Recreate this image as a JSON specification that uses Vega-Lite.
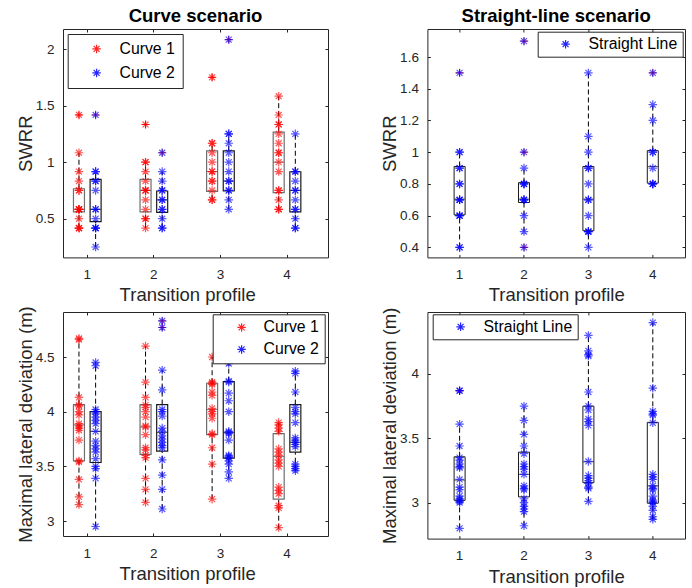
{
"$schema": "https://vega.github.io/schema/vega-lite/v6.json",
"background": "white",
"padding": {"left": 15, "top": 6, "right": 2, "bottom": 2},
"config": {
  "font": "Liberation Sans",
  "view": {"stroke": "#262626", "strokeWidth": 1},
  "axis": {"domain": false, "grid": false, "tickColor": "#262626", "tickSize": -3, "tickWidth": 1, "labelColor": "#262626", "labelFontSize": 13.5, "titleColor": "#262626", "titleFontSize": 18.5, "titleFontWeight": "normal", "labelAngle": 0},
  "axisY": {"labelPadding": 12, "titlePadding": 0},
  "axisX": {"labelPadding": 13, "titlePadding": 5},
  "title": {"fontSize": 18.5, "fontWeight": "bold", "color": "#000", "baseline": "bottom", "offset": 3},
  "legend": {"strokeColor": "#262626", "fillColor": "white", "labelFontSize": 15.8, "labelColor": "#000", "symbolType": "M-1,0L1,0M0,-1L0,1M-0.7,-0.7L0.7,0.7M-0.7,0.7L0.7,-0.7", "symbolSize": 72, "symbolStrokeWidth": 1.2, "symbolFillColor": "transparent", "symbolOpacity": 0.85}
},
"datasets": {
"p1": [
{"g":1,"s":"Curve 1","v":1.417,"o":1},{"g":1,"s":"Curve 1","v":1.083},{"g":1,"s":"Curve 1","v":0.917},{"g":1,"s":"Curve 1","v":0.833},{"g":1,"s":"Curve 1","v":0.75},{"g":1,"s":"Curve 1","v":0.75},{"g":1,"s":"Curve 1","v":0.583},{"g":1,"s":"Curve 1","v":0.583},{"g":1,"s":"Curve 1","v":0.583},{"g":1,"s":"Curve 1","v":0.583},{"g":1,"s":"Curve 1","v":0.5},{"g":1,"s":"Curve 1","v":0.417},{"g":1,"s":"Curve 1","v":0.417},{"g":1,"s":"Curve 1","v":0.417},
{"g":1,"s":"Curve 2","v":1.417,"o":1},{"g":1,"s":"Curve 2","v":0.917},{"g":1,"s":"Curve 2","v":0.917},{"g":1,"s":"Curve 2","v":0.833},{"g":1,"s":"Curve 2","v":0.833},{"g":1,"s":"Curve 2","v":0.75},{"g":1,"s":"Curve 2","v":0.583},{"g":1,"s":"Curve 2","v":0.583},{"g":1,"s":"Curve 2","v":0.5},{"g":1,"s":"Curve 2","v":0.417},{"g":1,"s":"Curve 2","v":0.417},{"g":1,"s":"Curve 2","v":0.417},{"g":1,"s":"Curve 2","v":0.25},
{"g":2,"s":"Curve 1","v":1.333,"o":1},{"g":2,"s":"Curve 1","v":1.0},{"g":2,"s":"Curve 1","v":1.0},{"g":2,"s":"Curve 1","v":0.917},{"g":2,"s":"Curve 1","v":0.833},{"g":2,"s":"Curve 1","v":0.75},{"g":2,"s":"Curve 1","v":0.75},{"g":2,"s":"Curve 1","v":0.75},{"g":2,"s":"Curve 1","v":0.667},{"g":2,"s":"Curve 1","v":0.583},{"g":2,"s":"Curve 1","v":0.5},{"g":2,"s":"Curve 1","v":0.5},{"g":2,"s":"Curve 1","v":0.417},
{"g":2,"s":"Curve 2","v":1.083,"o":1},{"g":2,"s":"Curve 2","v":0.917},{"g":2,"s":"Curve 2","v":0.833},{"g":2,"s":"Curve 2","v":0.75},{"g":2,"s":"Curve 2","v":0.75},{"g":2,"s":"Curve 2","v":0.667},{"g":2,"s":"Curve 2","v":0.667},{"g":2,"s":"Curve 2","v":0.583},{"g":2,"s":"Curve 2","v":0.583},{"g":2,"s":"Curve 2","v":0.5},{"g":2,"s":"Curve 2","v":0.417},{"g":2,"s":"Curve 2","v":0.417},
{"g":3,"s":"Curve 1","v":1.75,"o":1},{"g":3,"s":"Curve 1","v":1.167},{"g":3,"s":"Curve 1","v":1.167},{"g":3,"s":"Curve 1","v":1.083},{"g":3,"s":"Curve 1","v":1.0},{"g":3,"s":"Curve 1","v":0.917},{"g":3,"s":"Curve 1","v":0.917},{"g":3,"s":"Curve 1","v":0.833},{"g":3,"s":"Curve 1","v":0.833},{"g":3,"s":"Curve 1","v":0.75},{"g":3,"s":"Curve 1","v":0.667},{"g":3,"s":"Curve 1","v":0.667},
{"g":3,"s":"Curve 2","v":2.083,"o":1},{"g":3,"s":"Curve 2","v":1.25},{"g":3,"s":"Curve 2","v":1.25},{"g":3,"s":"Curve 2","v":1.167},{"g":3,"s":"Curve 2","v":1.083},{"g":3,"s":"Curve 2","v":1.0},{"g":3,"s":"Curve 2","v":0.917},{"g":3,"s":"Curve 2","v":0.833},{"g":3,"s":"Curve 2","v":0.833},{"g":3,"s":"Curve 2","v":0.75},{"g":3,"s":"Curve 2","v":0.75},{"g":3,"s":"Curve 2","v":0.667},{"g":3,"s":"Curve 2","v":0.583},
{"g":4,"s":"Curve 1","v":1.583},{"g":4,"s":"Curve 1","v":1.417},{"g":4,"s":"Curve 1","v":1.333},{"g":4,"s":"Curve 1","v":1.333},{"g":4,"s":"Curve 1","v":1.25},{"g":4,"s":"Curve 1","v":1.167},{"g":4,"s":"Curve 1","v":1.083},{"g":4,"s":"Curve 1","v":1.083},{"g":4,"s":"Curve 1","v":1.0},{"g":4,"s":"Curve 1","v":0.917},{"g":4,"s":"Curve 1","v":0.75},{"g":4,"s":"Curve 1","v":0.75},{"g":4,"s":"Curve 1","v":0.667},{"g":4,"s":"Curve 1","v":0.583},{"g":4,"s":"Curve 1","v":0.583},
{"g":4,"s":"Curve 2","v":1.25},{"g":4,"s":"Curve 2","v":0.917},{"g":4,"s":"Curve 2","v":0.917},{"g":4,"s":"Curve 2","v":0.833},{"g":4,"s":"Curve 2","v":0.75},{"g":4,"s":"Curve 2","v":0.75},{"g":4,"s":"Curve 2","v":0.667},{"g":4,"s":"Curve 2","v":0.583},{"g":4,"s":"Curve 2","v":0.583},{"g":4,"s":"Curve 2","v":0.5},{"g":4,"s":"Curve 2","v":0.417},{"g":4,"s":"Curve 2","v":0.417}
],
"p1b": [
{"g":1,"s":"Curve 1","lo":0.417,"q1":0.56,"med":0.583,"q3":0.765,"hi":1.083},
{"g":1,"s":"Curve 2","lo":0.25,"q1":0.475,"med":0.583,"q3":0.848,"hi":0.917},
{"g":2,"s":"Curve 1","lo":0.417,"q1":0.56,"med":0.75,"q3":0.848,"hi":1.0},
{"g":2,"s":"Curve 2","lo":0.417,"q1":0.556,"med":0.667,"q3":0.745,"hi":0.917},
{"g":3,"s":"Curve 1","lo":0.667,"q1":0.742,"med":0.917,"q3":1.1,"hi":1.167},
{"g":3,"s":"Curve 2","lo":0.583,"q1":0.745,"med":0.833,"q3":1.1,"hi":1.25},
{"g":4,"s":"Curve 1","lo":0.583,"q1":0.73,"med":1.0,"q3":1.265,"hi":1.583},
{"g":4,"s":"Curve 2","lo":0.417,"q1":0.56,"med":0.75,"q3":0.915,"hi":1.25}
],
"p2": [
{"g":1,"s":"Straight Line","v":1.5,"o":1},{"g":1,"s":"Straight Line","v":1.0},{"g":1,"s":"Straight Line","v":1.0},{"g":1,"s":"Straight Line","v":0.9},{"g":1,"s":"Straight Line","v":0.9},{"g":1,"s":"Straight Line","v":0.8},{"g":1,"s":"Straight Line","v":0.8},{"g":1,"s":"Straight Line","v":0.7},{"g":1,"s":"Straight Line","v":0.7},{"g":1,"s":"Straight Line","v":0.7},{"g":1,"s":"Straight Line","v":0.6},{"g":1,"s":"Straight Line","v":0.6},{"g":1,"s":"Straight Line","v":0.6},{"g":1,"s":"Straight Line","v":0.4},{"g":1,"s":"Straight Line","v":0.4},
{"g":2,"s":"Straight Line","v":1.7,"o":1},{"g":2,"s":"Straight Line","v":1.0,"o":1},{"g":2,"s":"Straight Line","v":0.9},{"g":2,"s":"Straight Line","v":0.8},{"g":2,"s":"Straight Line","v":0.8},{"g":2,"s":"Straight Line","v":0.8},{"g":2,"s":"Straight Line","v":0.7},{"g":2,"s":"Straight Line","v":0.7},{"g":2,"s":"Straight Line","v":0.7},{"g":2,"s":"Straight Line","v":0.6},{"g":2,"s":"Straight Line","v":0.5},{"g":2,"s":"Straight Line","v":0.4,"o":1},
{"g":3,"s":"Straight Line","v":1.5},{"g":3,"s":"Straight Line","v":1.1},{"g":3,"s":"Straight Line","v":1.0},{"g":3,"s":"Straight Line","v":0.9},{"g":3,"s":"Straight Line","v":0.9},{"g":3,"s":"Straight Line","v":0.8},{"g":3,"s":"Straight Line","v":0.7},{"g":3,"s":"Straight Line","v":0.7},{"g":3,"s":"Straight Line","v":0.6},{"g":3,"s":"Straight Line","v":0.5},{"g":3,"s":"Straight Line","v":0.5},{"g":3,"s":"Straight Line","v":0.5},{"g":3,"s":"Straight Line","v":0.4},
{"g":4,"s":"Straight Line","v":1.5,"o":1},{"g":4,"s":"Straight Line","v":1.3},{"g":4,"s":"Straight Line","v":1.2},{"g":4,"s":"Straight Line","v":1.0},{"g":4,"s":"Straight Line","v":1.0},{"g":4,"s":"Straight Line","v":0.9},{"g":4,"s":"Straight Line","v":0.8},{"g":4,"s":"Straight Line","v":0.8},{"g":4,"s":"Straight Line","v":0.8}
],
"p2b": [
{"g":1,"lo":0.4,"q1":0.605,"med":0.705,"q3":0.91,"hi":1.0},
{"g":2,"lo":0.5,"q1":0.683,"med":0.705,"q3":0.808,"hi":0.9},
{"g":3,"lo":0.4,"q1":0.505,"med":0.705,"q3":0.91,"hi":1.5},
{"g":4,"lo":0.8,"q1":0.805,"med":0.91,"q3":1.01,"hi":1.3}
],
"p3": [
{"g":1,"s":"Curve 1","v":4.67},{"g":1,"s":"Curve 1","v":4.66},{"g":1,"s":"Curve 1","v":4.13},{"g":1,"s":"Curve 1","v":4.06},{"g":1,"s":"Curve 1","v":4.05},{"g":1,"s":"Curve 1","v":4.0},{"g":1,"s":"Curve 1","v":3.97},{"g":1,"s":"Curve 1","v":3.89},{"g":1,"s":"Curve 1","v":3.87},{"g":1,"s":"Curve 1","v":3.85},{"g":1,"s":"Curve 1","v":3.83},{"g":1,"s":"Curve 1","v":3.74},{"g":1,"s":"Curve 1","v":3.55},{"g":1,"s":"Curve 1","v":3.54},{"g":1,"s":"Curve 1","v":3.38},{"g":1,"s":"Curve 1","v":3.22},{"g":1,"s":"Curve 1","v":3.15},
{"g":1,"s":"Curve 2","v":4.45},{"g":1,"s":"Curve 2","v":4.42},{"g":1,"s":"Curve 2","v":4.02},{"g":1,"s":"Curve 2","v":4.0},{"g":1,"s":"Curve 2","v":3.98},{"g":1,"s":"Curve 2","v":3.95},{"g":1,"s":"Curve 2","v":3.92},{"g":1,"s":"Curve 2","v":3.89},{"g":1,"s":"Curve 2","v":3.82},{"g":1,"s":"Curve 2","v":3.73},{"g":1,"s":"Curve 2","v":3.69},{"g":1,"s":"Curve 2","v":3.66},{"g":1,"s":"Curve 2","v":3.63},{"g":1,"s":"Curve 2","v":3.57},{"g":1,"s":"Curve 2","v":3.5},{"g":1,"s":"Curve 2","v":3.48},{"g":1,"s":"Curve 2","v":3.39},{"g":1,"s":"Curve 2","v":2.95},
{"g":2,"s":"Curve 1","v":4.6},{"g":2,"s":"Curve 1","v":4.27},{"g":2,"s":"Curve 1","v":4.13},{"g":2,"s":"Curve 1","v":4.06},{"g":2,"s":"Curve 1","v":4.04},{"g":2,"s":"Curve 1","v":4.0},{"g":2,"s":"Curve 1","v":3.95},{"g":2,"s":"Curve 1","v":3.87},{"g":2,"s":"Curve 1","v":3.86},{"g":2,"s":"Curve 1","v":3.79},{"g":2,"s":"Curve 1","v":3.67},{"g":2,"s":"Curve 1","v":3.65},{"g":2,"s":"Curve 1","v":3.6},{"g":2,"s":"Curve 1","v":3.58},{"g":2,"s":"Curve 1","v":3.39},{"g":2,"s":"Curve 1","v":3.29},{"g":2,"s":"Curve 1","v":3.17},
{"g":2,"s":"Curve 2","v":4.83,"o":1},{"g":2,"s":"Curve 2","v":4.77,"o":1},{"g":2,"s":"Curve 2","v":4.38},{"g":2,"s":"Curve 2","v":4.2},{"g":2,"s":"Curve 2","v":4.02},{"g":2,"s":"Curve 2","v":4.0},{"g":2,"s":"Curve 2","v":3.96},{"g":2,"s":"Curve 2","v":3.85},{"g":2,"s":"Curve 2","v":3.82},{"g":2,"s":"Curve 2","v":3.78},{"g":2,"s":"Curve 2","v":3.75},{"g":2,"s":"Curve 2","v":3.72},{"g":2,"s":"Curve 2","v":3.69},{"g":2,"s":"Curve 2","v":3.67},{"g":2,"s":"Curve 2","v":3.56},{"g":2,"s":"Curve 2","v":3.42},{"g":2,"s":"Curve 2","v":3.29},{"g":2,"s":"Curve 2","v":3.11},
{"g":3,"s":"Curve 1","v":4.5},{"g":3,"s":"Curve 1","v":4.27},{"g":3,"s":"Curve 1","v":4.26},{"g":3,"s":"Curve 1","v":4.25},{"g":3,"s":"Curve 1","v":4.18},{"g":3,"s":"Curve 1","v":4.15},{"g":3,"s":"Curve 1","v":4.03},{"g":3,"s":"Curve 1","v":4.0},{"g":3,"s":"Curve 1","v":3.98},{"g":3,"s":"Curve 1","v":3.94},{"g":3,"s":"Curve 1","v":3.8},{"g":3,"s":"Curve 1","v":3.79},{"g":3,"s":"Curve 1","v":3.67},{"g":3,"s":"Curve 1","v":3.52},{"g":3,"s":"Curve 1","v":3.2},
{"g":3,"s":"Curve 2","v":4.44},{"g":3,"s":"Curve 2","v":4.28},{"g":3,"s":"Curve 2","v":4.27},{"g":3,"s":"Curve 2","v":4.17},{"g":3,"s":"Curve 2","v":4.1},{"g":3,"s":"Curve 2","v":4.0},{"g":3,"s":"Curve 2","v":3.82},{"g":3,"s":"Curve 2","v":3.81},{"g":3,"s":"Curve 2","v":3.8},{"g":3,"s":"Curve 2","v":3.74},{"g":3,"s":"Curve 2","v":3.6},{"g":3,"s":"Curve 2","v":3.59},{"g":3,"s":"Curve 2","v":3.58},{"g":3,"s":"Curve 2","v":3.55},{"g":3,"s":"Curve 2","v":3.52},{"g":3,"s":"Curve 2","v":3.45},{"g":3,"s":"Curve 2","v":3.39},
{"g":4,"s":"Curve 1","v":3.9},{"g":4,"s":"Curve 1","v":3.88},{"g":4,"s":"Curve 1","v":3.85},{"g":4,"s":"Curve 1","v":3.82},{"g":4,"s":"Curve 1","v":3.66},{"g":4,"s":"Curve 1","v":3.63},{"g":4,"s":"Curve 1","v":3.6},{"g":4,"s":"Curve 1","v":3.56},{"g":4,"s":"Curve 1","v":3.53},{"g":4,"s":"Curve 1","v":3.5},{"g":4,"s":"Curve 1","v":3.31},{"g":4,"s":"Curve 1","v":3.28},{"g":4,"s":"Curve 1","v":3.25},{"g":4,"s":"Curve 1","v":3.14},{"g":4,"s":"Curve 1","v":3.12},{"g":4,"s":"Curve 1","v":2.94},
{"g":4,"s":"Curve 2","v":4.37},{"g":4,"s":"Curve 2","v":4.35},{"g":4,"s":"Curve 2","v":4.18},{"g":4,"s":"Curve 2","v":4.04},{"g":4,"s":"Curve 2","v":4.0},{"g":4,"s":"Curve 2","v":3.98},{"g":4,"s":"Curve 2","v":3.9},{"g":4,"s":"Curve 2","v":3.76},{"g":4,"s":"Curve 2","v":3.74},{"g":4,"s":"Curve 2","v":3.72},{"g":4,"s":"Curve 2","v":3.7},{"g":4,"s":"Curve 2","v":3.68},{"g":4,"s":"Curve 2","v":3.52},{"g":4,"s":"Curve 2","v":3.5},{"g":4,"s":"Curve 2","v":3.48},{"g":4,"s":"Curve 2","v":3.46}
],
"p3b": [
{"g":1,"s":"Curve 1","lo":3.15,"q1":3.55,"med":3.88,"q3":4.065,"hi":4.67},
{"g":1,"s":"Curve 2","lo":2.95,"q1":3.535,"med":3.82,"q3":4.0,"hi":4.45},
{"g":2,"s":"Curve 1","lo":3.17,"q1":3.61,"med":3.86,"q3":4.065,"hi":4.6},
{"g":2,"s":"Curve 2","lo":3.11,"q1":3.64,"med":3.81,"q3":4.065,"hi":4.38},
{"g":3,"s":"Curve 1","lo":3.2,"q1":3.79,"med":4.02,"q3":4.26,"hi":4.5},
{"g":3,"s":"Curve 2","lo":3.39,"q1":3.575,"med":3.81,"q3":4.275,"hi":4.44},
{"g":4,"s":"Curve 1","lo":2.93,"q1":3.2,"med":3.59,"q3":3.8,"hi":3.9},
{"g":4,"s":"Curve 2","lo":3.46,"q1":3.63,"med":3.72,"q3":4.065,"hi":4.37}
],
"p4": [
{"g":1,"s":"Straight Line","v":3.87,"o":1},{"g":1,"s":"Straight Line","v":3.87,"o":1},{"g":1,"s":"Straight Line","v":3.61},{"g":1,"s":"Straight Line","v":3.44},{"g":1,"s":"Straight Line","v":3.35},{"g":1,"s":"Straight Line","v":3.33},{"g":1,"s":"Straight Line","v":3.3},{"g":1,"s":"Straight Line","v":3.28},{"g":1,"s":"Straight Line","v":3.27},{"g":1,"s":"Straight Line","v":3.18},{"g":1,"s":"Straight Line","v":3.12},{"g":1,"s":"Straight Line","v":3.1},{"g":1,"s":"Straight Line","v":3.05},{"g":1,"s":"Straight Line","v":3.03},{"g":1,"s":"Straight Line","v":3.02},{"g":1,"s":"Straight Line","v":3.01},{"g":1,"s":"Straight Line","v":3.0},{"g":1,"s":"Straight Line","v":2.8},
{"g":2,"s":"Straight Line","v":3.75},{"g":2,"s":"Straight Line","v":3.64},{"g":2,"s":"Straight Line","v":3.53},{"g":2,"s":"Straight Line","v":3.44},{"g":2,"s":"Straight Line","v":3.38},{"g":2,"s":"Straight Line","v":3.3},{"g":2,"s":"Straight Line","v":3.28},{"g":2,"s":"Straight Line","v":3.26},{"g":2,"s":"Straight Line","v":3.22},{"g":2,"s":"Straight Line","v":3.13},{"g":2,"s":"Straight Line","v":3.11},{"g":2,"s":"Straight Line","v":3.1},{"g":2,"s":"Straight Line","v":3.03},{"g":2,"s":"Straight Line","v":3.0},{"g":2,"s":"Straight Line","v":2.97},{"g":2,"s":"Straight Line","v":2.95},{"g":2,"s":"Straight Line","v":2.93},{"g":2,"s":"Straight Line","v":2.82},
{"g":3,"s":"Straight Line","v":4.3},{"g":3,"s":"Straight Line","v":4.18},{"g":3,"s":"Straight Line","v":4.15},{"g":3,"s":"Straight Line","v":4.14},{"g":3,"s":"Straight Line","v":3.86},{"g":3,"s":"Straight Line","v":3.75},{"g":3,"s":"Straight Line","v":3.72},{"g":3,"s":"Straight Line","v":3.65},{"g":3,"s":"Straight Line","v":3.63},{"g":3,"s":"Straight Line","v":3.6},{"g":3,"s":"Straight Line","v":3.32},{"g":3,"s":"Straight Line","v":3.21},{"g":3,"s":"Straight Line","v":3.19},{"g":3,"s":"Straight Line","v":3.17},{"g":3,"s":"Straight Line","v":3.15},{"g":3,"s":"Straight Line","v":3.12},{"g":3,"s":"Straight Line","v":3.11},{"g":3,"s":"Straight Line","v":3.01},
{"g":4,"s":"Straight Line","v":4.4},{"g":4,"s":"Straight Line","v":3.89},{"g":4,"s":"Straight Line","v":3.71},{"g":4,"s":"Straight Line","v":3.69},{"g":4,"s":"Straight Line","v":3.68},{"g":4,"s":"Straight Line","v":3.62},{"g":4,"s":"Straight Line","v":3.22},{"g":4,"s":"Straight Line","v":3.2},{"g":4,"s":"Straight Line","v":3.18},{"g":4,"s":"Straight Line","v":3.13},{"g":4,"s":"Straight Line","v":3.11},{"g":4,"s":"Straight Line","v":3.1},{"g":4,"s":"Straight Line","v":3.05},{"g":4,"s":"Straight Line","v":3.02},{"g":4,"s":"Straight Line","v":3.01},{"g":4,"s":"Straight Line","v":3.0},{"g":4,"s":"Straight Line","v":2.97},{"g":4,"s":"Straight Line","v":2.94},{"g":4,"s":"Straight Line","v":2.89},{"g":4,"s":"Straight Line","v":2.87}
],
"p4b": [
{"g":1,"lo":2.8,"q1":3.018,"med":3.175,"q3":3.356,"hi":3.61},
{"g":2,"lo":2.82,"q1":3.044,"med":3.22,"q3":3.392,"hi":3.75},
{"g":3,"lo":3.01,"q1":3.155,"med":3.317,"q3":3.75,"hi":4.3},
{"g":4,"lo":2.87,"q1":2.995,"med":3.13,"q3":3.624,"hi":4.4}
]
},
"resolve": {"scale": {"stroke": "independent"}, "legend": {"stroke": "independent"}},
"bounds": "flush",
"columns": 2,
"spacing": {"row": 54, "column": 99.4},
"concat": [
{"width": 265, "height": 228.4, "title": "Curve scenario",
 "resolve": {"axis": {"x": "independent", "y": "independent"}},
 "layer": [
  {"data": {"name": "p1b"}, "mark": {"type": "rule", "strokeDash": [5, 3], "color": "#000", "strokeWidth": 1},
   "encoding": {
    "x": {"field": "g", "type": "ordinal", "scale": {"type": "band", "range": [-9, 257.3], "paddingInner": 0, "paddingOuter": 0}, "axis": {"orient": "top", "labels": false, "title": null}},
    "xOffset": {"field": "s", "type": "nominal", "scale": {"domain": ["Curve 1", "Curve 2"], "paddingInner": 0, "paddingOuter": 1}},
    "y": {"field": "q3", "type": "quantitative", "scale": {"domain": [0.158, 2.177], "nice": false, "zero": false}, "axis": {"orient": "right", "labels": false, "title": null, "values": [0.5, 1, 1.5, 2]}},
    "y2": {"field": "hi"}}},
  {"data": {"name": "p1b"}, "mark": {"type": "rule", "strokeDash": [5, 3], "color": "#000", "strokeWidth": 1},
   "encoding": {
    "x": {"field": "g", "type": "ordinal", "scale": {"type": "band", "range": [-9, 257.3], "paddingInner": 0, "paddingOuter": 0}, "axis": null},
    "xOffset": {"field": "s", "type": "nominal", "scale": {"domain": ["Curve 1", "Curve 2"], "paddingInner": 0, "paddingOuter": 1}},
    "y": {"field": "lo", "type": "quantitative", "scale": {"domain": [0.158, 2.177], "nice": false, "zero": false}, "axis": null},
    "y2": {"field": "q1"}}},
  {"data": {"name": "p1b"}, "mark": {"type": "bar", "width": 11, "fillOpacity": 0, "strokeWidth": 1.2},
   "encoding": {
    "x": {"field": "g", "type": "ordinal", "scale": {"type": "band", "range": [-9, 257.3], "paddingInner": 0, "paddingOuter": 0}, "axis": null},
    "xOffset": {"field": "s", "type": "nominal", "scale": {"domain": ["Curve 1", "Curve 2"], "paddingInner": 0, "paddingOuter": 1}},
    "y": {"field": "q1", "type": "quantitative", "scale": {"domain": [0.158, 2.177], "nice": false, "zero": false}, "axis": null},
    "y2": {"field": "q3"},
    "stroke": {"condition": {"test": "datum.s === 'Curve 1'", "value": "#6e6e6e"}, "value": "#1a1a1a"}}},
  {"data": {"name": "p1b"}, "mark": {"type": "tick", "size": 11, "thickness": 1},
   "encoding": {
    "x": {"field": "g", "type": "ordinal", "scale": {"type": "band", "range": [-9, 257.3], "paddingInner": 0, "paddingOuter": 0}, "axis": null},
    "xOffset": {"field": "s", "type": "nominal", "scale": {"domain": ["Curve 1", "Curve 2"], "paddingInner": 0, "paddingOuter": 1}},
    "y": {"field": "med", "type": "quantitative", "scale": {"domain": [0.158, 2.177], "nice": false, "zero": false}, "axis": null},
    "color": {"condition": {"test": "datum.s === 'Curve 1'", "value": "#555555"}, "value": "#1a1a1a"}}},
  {"data": {"name": "p1"}, "transform": [{"filter": "datum.o === 1"}], "mark": {"type": "point", "shape": "M-1,0L1,0M0,-1L0,1", "filled": false, "size": 49, "strokeWidth": 1, "color": "#ff0000", "opacity": 1},
   "encoding": {
    "x": {"field": "g", "type": "ordinal", "scale": {"type": "band", "range": [-9, 257.3], "paddingInner": 0, "paddingOuter": 0}, "axis": null},
    "xOffset": {"field": "s", "type": "nominal", "scale": {"domain": ["Curve 1", "Curve 2"], "paddingInner": 0, "paddingOuter": 1}},
    "y": {"field": "v", "type": "quantitative", "scale": {"domain": [0.158, 2.177], "nice": false, "zero": false}, "axis": null}}},
  {"data": {"name": "p1"}, "mark": {"type": "point", "shape": "M-1,0L1,0M0,-1L0,1M-0.7,-0.7L0.7,0.7M-0.7,0.7L0.7,-0.7", "filled": false, "size": 72, "strokeWidth": 1.2, "opacity": 0.65},
   "encoding": {
    "x": {"field": "g", "type": "ordinal", "scale": {"type": "band", "range": [-9, 257.3], "paddingInner": 0, "paddingOuter": 0}, "axis": {"orient": "bottom", "title": "Transition profile"}},
    "xOffset": {"field": "s", "type": "nominal", "scale": {"domain": ["Curve 1", "Curve 2"], "paddingInner": 0, "paddingOuter": 1}},
    "y": {"field": "v", "type": "quantitative", "scale": {"domain": [0.158, 2.177], "nice": false, "zero": false}, "axis": {"orient": "left", "title": "SWRR", "values": [0.5, 1, 1.5, 2], "format": "~g"}},
    "stroke": {"field": "s", "type": "nominal", "scale": {"domain": ["Curve 1", "Curve 2"], "range": ["#ff0000", "#0000ff"]},
      "legend": {"title": null, "orient": "none", "legendX": 4.7, "legendY": 5, "padding": 7, "symbolOffset": 14, "labelOffset": 15, "rowPadding": 7}}}}
 ]},
{"width": 257.6, "height": 228.4, "title": "Straight-line scenario",
 "resolve": {"axis": {"x": "independent", "y": "independent"}},
 "layer": [
  {"data": {"name": "p2b"}, "mark": {"type": "rule", "strokeDash": [5, 3], "color": "#000", "strokeWidth": 1},
   "encoding": {
    "x": {"field": "g", "type": "ordinal", "scale": {"type": "band", "paddingInner": 0, "paddingOuter": 0}, "axis": {"orient": "top", "labels": false, "title": null}},
    "y": {"field": "q3", "type": "quantitative", "scale": {"domain": [0.337, 1.7765], "nice": false, "zero": false}, "axis": {"orient": "right", "labels": false, "title": null, "values": [0.4, 0.6, 0.8, 1, 1.2, 1.4, 1.6]}},
    "y2": {"field": "hi"}}},
  {"data": {"name": "p2b"}, "mark": {"type": "rule", "strokeDash": [5, 3], "color": "#000", "strokeWidth": 1},
   "encoding": {
    "x": {"field": "g", "type": "ordinal", "scale": {"type": "band", "paddingInner": 0, "paddingOuter": 0}, "axis": null},
    "y": {"field": "lo", "type": "quantitative", "scale": {"domain": [0.337, 1.7765], "nice": false, "zero": false}, "axis": null},
    "y2": {"field": "q1"}}},
  {"data": {"name": "p2b"}, "mark": {"type": "bar", "width": 11, "fillOpacity": 0, "strokeWidth": 1, "stroke": "#1a1a1a"},
   "encoding": {
    "x": {"field": "g", "type": "ordinal", "scale": {"type": "band", "paddingInner": 0, "paddingOuter": 0}, "axis": null},
    "y": {"field": "q1", "type": "quantitative", "scale": {"domain": [0.337, 1.7765], "nice": false, "zero": false}, "axis": null},
    "y2": {"field": "q3"}}},
  {"data": {"name": "p2b"}, "mark": {"type": "tick", "size": 11, "thickness": 1, "color": "#1a1a1a"},
   "encoding": {
    "x": {"field": "g", "type": "ordinal", "scale": {"type": "band", "paddingInner": 0, "paddingOuter": 0}, "axis": null},
    "y": {"field": "med", "type": "quantitative", "scale": {"domain": [0.337, 1.7765], "nice": false, "zero": false}, "axis": null}}},
  {"data": {"name": "p2"}, "transform": [{"filter": "datum.o === 1"}], "mark": {"type": "point", "shape": "M-1,0L1,0M0,-1L0,1", "filled": false, "size": 49, "strokeWidth": 1, "color": "#ff0000", "opacity": 1},
   "encoding": {
    "x": {"field": "g", "type": "ordinal", "scale": {"type": "band", "paddingInner": 0, "paddingOuter": 0}, "axis": null},
    "y": {"field": "v", "type": "quantitative", "scale": {"domain": [0.337, 1.7765], "nice": false, "zero": false}, "axis": null}}},
  {"data": {"name": "p2"}, "mark": {"type": "point", "shape": "M-1,0L1,0M0,-1L0,1M-0.7,-0.7L0.7,0.7M-0.7,0.7L0.7,-0.7", "filled": false, "size": 72, "strokeWidth": 1.2, "opacity": 0.65},
   "encoding": {
    "x": {"field": "g", "type": "ordinal", "scale": {"type": "band", "paddingInner": 0, "paddingOuter": 0}, "axis": {"orient": "bottom", "title": "Transition profile"}},
    "y": {"field": "v", "type": "quantitative", "scale": {"domain": [0.337, 1.7765], "nice": false, "zero": false}, "axis": {"orient": "left", "title": "SWRR", "values": [0.4, 0.6, 0.8, 1, 1.2, 1.4, 1.6], "format": "~g"}},
    "stroke": {"field": "s", "type": "nominal", "scale": {"domain": ["Straight Line"], "range": ["#0000ff"]},
      "legend": {"title": null, "orient": "none", "legendX": 110.3, "legendY": 2.7, "padding": 4.6, "symbolOffset": 15.4, "labelOffset": 15, "rowPadding": 0}}}}
 ]},
{"width": 265, "height": 224,
 "resolve": {"axis": {"x": "independent", "y": "independent"}},
 "layer": [
  {"data": {"name": "p3b"}, "mark": {"type": "rule", "strokeDash": [5, 3], "color": "#000", "strokeWidth": 1},
   "encoding": {
    "x": {"field": "g", "type": "ordinal", "scale": {"type": "band", "range": [-9, 257.3], "paddingInner": 0, "paddingOuter": 0}, "axis": {"orient": "top", "labels": false, "title": null}},
    "xOffset": {"field": "s", "type": "nominal", "scale": {"domain": ["Curve 1", "Curve 2"], "paddingInner": 0, "paddingOuter": 1}},
    "y": {"field": "q3", "type": "quantitative", "scale": {"domain": [2.863, 4.9116], "nice": false, "zero": false}, "axis": {"orient": "right", "labels": false, "title": null, "values": [3, 3.5, 4, 4.5]}},
    "y2": {"field": "hi"}}},
  {"data": {"name": "p3b"}, "mark": {"type": "rule", "strokeDash": [5, 3], "color": "#000", "strokeWidth": 1},
   "encoding": {
    "x": {"field": "g", "type": "ordinal", "scale": {"type": "band", "range": [-9, 257.3], "paddingInner": 0, "paddingOuter": 0}, "axis": null},
    "xOffset": {"field": "s", "type": "nominal", "scale": {"domain": ["Curve 1", "Curve 2"], "paddingInner": 0, "paddingOuter": 1}},
    "y": {"field": "lo", "type": "quantitative", "scale": {"domain": [2.863, 4.9116], "nice": false, "zero": false}, "axis": null},
    "y2": {"field": "q1"}}},
  {"data": {"name": "p3b"}, "mark": {"type": "bar", "width": 11, "fillOpacity": 0, "strokeWidth": 1.2},
   "encoding": {
    "x": {"field": "g", "type": "ordinal", "scale": {"type": "band", "range": [-9, 257.3], "paddingInner": 0, "paddingOuter": 0}, "axis": null},
    "xOffset": {"field": "s", "type": "nominal", "scale": {"domain": ["Curve 1", "Curve 2"], "paddingInner": 0, "paddingOuter": 1}},
    "y": {"field": "q1", "type": "quantitative", "scale": {"domain": [2.863, 4.9116], "nice": false, "zero": false}, "axis": null},
    "y2": {"field": "q3"},
    "stroke": {"condition": {"test": "datum.s === 'Curve 1'", "value": "#6e6e6e"}, "value": "#1a1a1a"}}},
  {"data": {"name": "p3b"}, "mark": {"type": "tick", "size": 11, "thickness": 1},
   "encoding": {
    "x": {"field": "g", "type": "ordinal", "scale": {"type": "band", "range": [-9, 257.3], "paddingInner": 0, "paddingOuter": 0}, "axis": null},
    "xOffset": {"field": "s", "type": "nominal", "scale": {"domain": ["Curve 1", "Curve 2"], "paddingInner": 0, "paddingOuter": 1}},
    "y": {"field": "med", "type": "quantitative", "scale": {"domain": [2.863, 4.9116], "nice": false, "zero": false}, "axis": null},
    "color": {"condition": {"test": "datum.s === 'Curve 1'", "value": "#555555"}, "value": "#1a1a1a"}}},
  {"data": {"name": "p3"}, "transform": [{"filter": "datum.o === 1"}], "mark": {"type": "point", "shape": "M-1,0L1,0M0,-1L0,1", "filled": false, "size": 49, "strokeWidth": 1, "color": "#ff0000", "opacity": 1},
   "encoding": {
    "x": {"field": "g", "type": "ordinal", "scale": {"type": "band", "range": [-9, 257.3], "paddingInner": 0, "paddingOuter": 0}, "axis": null},
    "xOffset": {"field": "s", "type": "nominal", "scale": {"domain": ["Curve 1", "Curve 2"], "paddingInner": 0, "paddingOuter": 1}},
    "y": {"field": "v", "type": "quantitative", "scale": {"domain": [2.863, 4.9116], "nice": false, "zero": false}, "axis": null}}},
  {"data": {"name": "p3"}, "mark": {"type": "point", "shape": "M-1,0L1,0M0,-1L0,1M-0.7,-0.7L0.7,0.7M-0.7,0.7L0.7,-0.7", "filled": false, "size": 72, "strokeWidth": 1.2, "opacity": 0.65},
   "encoding": {
    "x": {"field": "g", "type": "ordinal", "scale": {"type": "band", "range": [-9, 257.3], "paddingInner": 0, "paddingOuter": 0}, "axis": {"orient": "bottom", "title": "Transition profile"}},
    "xOffset": {"field": "s", "type": "nominal", "scale": {"domain": ["Curve 1", "Curve 2"], "paddingInner": 0, "paddingOuter": 1}},
    "y": {"field": "v", "type": "quantitative", "scale": {"domain": [2.863, 4.9116], "nice": false, "zero": false}, "axis": {"orient": "left", "title": "Maximal lateral deviation (m)", "values": [3, 3.5, 4, 4.5], "format": "~g"}},
    "stroke": {"field": "s", "type": "nominal", "scale": {"domain": ["Curve 1", "Curve 2"], "range": ["#ff0000", "#0000ff"]},
      "legend": {"title": null, "orient": "none", "legendX": 149.7, "legendY": 2.3, "padding": 5.2, "symbolOffset": 15.8, "labelOffset": 14, "rowPadding": 5}}}}
 ]},
{"width": 257.6, "height": 226.6,
 "resolve": {"axis": {"x": "independent", "y": "independent"}},
 "layer": [
  {"data": {"name": "p4b"}, "mark": {"type": "rule", "strokeDash": [5, 3], "color": "#000", "strokeWidth": 1},
   "encoding": {
    "x": {"field": "g", "type": "ordinal", "scale": {"type": "band", "paddingInner": 0, "paddingOuter": 0}, "axis": {"orient": "top", "labels": false, "title": null}},
    "y": {"field": "q3", "type": "quantitative", "scale": {"domain": [2.72, 4.482], "nice": false, "zero": false}, "axis": {"orient": "right", "labels": false, "title": null, "values": [3, 3.5, 4]}},
    "y2": {"field": "hi"}}},
  {"data": {"name": "p4b"}, "mark": {"type": "rule", "strokeDash": [5, 3], "color": "#000", "strokeWidth": 1},
   "encoding": {
    "x": {"field": "g", "type": "ordinal", "scale": {"type": "band", "paddingInner": 0, "paddingOuter": 0}, "axis": null},
    "y": {"field": "lo", "type": "quantitative", "scale": {"domain": [2.72, 4.482], "nice": false, "zero": false}, "axis": null},
    "y2": {"field": "q1"}}},
  {"data": {"name": "p4b"}, "mark": {"type": "bar", "width": 11, "fillOpacity": 0, "strokeWidth": 1, "stroke": "#1a1a1a"},
   "encoding": {
    "x": {"field": "g", "type": "ordinal", "scale": {"type": "band", "paddingInner": 0, "paddingOuter": 0}, "axis": null},
    "y": {"field": "q1", "type": "quantitative", "scale": {"domain": [2.72, 4.482], "nice": false, "zero": false}, "axis": null},
    "y2": {"field": "q3"}}},
  {"data": {"name": "p4b"}, "mark": {"type": "tick", "size": 11, "thickness": 1, "color": "#1a1a1a"},
   "encoding": {
    "x": {"field": "g", "type": "ordinal", "scale": {"type": "band", "paddingInner": 0, "paddingOuter": 0}, "axis": null},
    "y": {"field": "med", "type": "quantitative", "scale": {"domain": [2.72, 4.482], "nice": false, "zero": false}, "axis": null}}},
  {"data": {"name": "p4"}, "transform": [{"filter": "datum.o === 1"}], "mark": {"type": "point", "shape": "M-1,0L1,0M0,-1L0,1", "filled": false, "size": 49, "strokeWidth": 1, "color": "#ff0000", "opacity": 1},
   "encoding": {
    "x": {"field": "g", "type": "ordinal", "scale": {"type": "band", "paddingInner": 0, "paddingOuter": 0}, "axis": null},
    "y": {"field": "v", "type": "quantitative", "scale": {"domain": [2.72, 4.482], "nice": false, "zero": false}, "axis": null}}},
  {"data": {"name": "p4"}, "mark": {"type": "point", "shape": "M-1,0L1,0M0,-1L0,1M-0.7,-0.7L0.7,0.7M-0.7,0.7L0.7,-0.7", "filled": false, "size": 72, "strokeWidth": 1.2, "opacity": 0.65},
   "encoding": {
    "x": {"field": "g", "type": "ordinal", "scale": {"type": "band", "paddingInner": 0, "paddingOuter": 0}, "axis": {"orient": "bottom", "title": "Transition profile"}},
    "y": {"field": "v", "type": "quantitative", "scale": {"domain": [2.72, 4.482], "nice": false, "zero": false}, "axis": {"orient": "left", "title": "Maximal lateral deviation (m)", "values": [3, 3.5, 4], "format": "~g"}},
    "stroke": {"field": "s", "type": "nominal", "scale": {"domain": ["Straight Line"], "range": ["#0000ff"]},
      "legend": {"title": null, "orient": "none", "legendX": 5.3, "legendY": 2.3, "padding": 4.6, "symbolOffset": 15.4, "labelOffset": 15, "rowPadding": 0}}}}
 ]}
]
}
